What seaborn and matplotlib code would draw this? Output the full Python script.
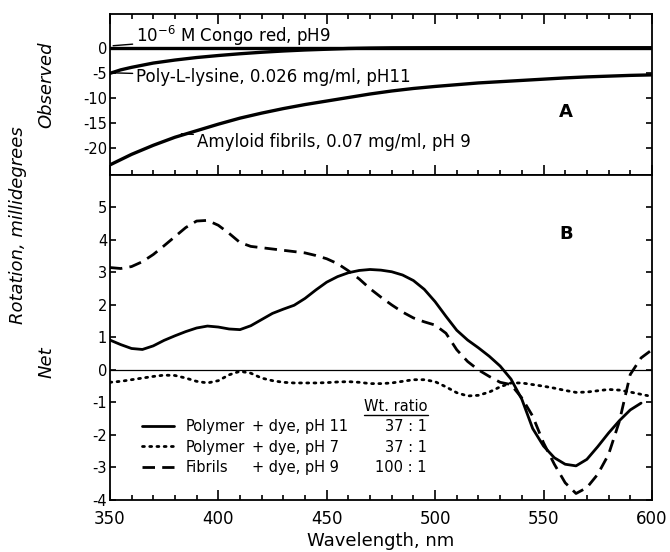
import numpy as np
import pandas as pd
import matplotlib
matplotlib.use("Agg")
import matplotlib.pyplot as plt
import seaborn as sns
from matplotlib.ticker import MultipleLocator
from matplotlib.lines import Line2D

# ---------------- data ----------------
# Panel A: observed rotation (millidegrees)
wl_congo = [350, 600]
congo = [0.0, 0.0]

wl_lysine = [350, 355, 360, 370, 380, 390, 400, 410, 420, 430, 440, 450,
             460, 470, 480, 500, 550, 600]
lysine = [-5.1, -4.4, -3.9, -3.05, -2.45, -1.95, -1.55, -1.2, -0.9, -0.65,
          -0.45, -0.3, -0.15, -0.07, -0.02, 0.0, 0.0, 0.0]

wl_fibril_obs = [350, 360, 370, 380, 390, 400, 410, 420, 430, 440, 450, 460,
                 470, 480, 490, 500, 510, 520, 530, 540, 550, 560, 570, 580,
                 590, 600]
fibril_obs = [-23.3, -21.2, -19.4, -17.8, -16.5, -15.2, -14.0, -13.0, -12.1,
              -11.3, -10.6, -9.9, -9.2, -8.6, -8.1, -7.7, -7.35, -7.0, -6.75,
              -6.5, -6.25, -6.0, -5.8, -5.65, -5.5, -5.4]

# Panel B: net rotation (millidegrees)
wl_ph11 = list(range(350, 600, 5))
net_ph11 = [0.92, 0.78, 0.66, 0.63, 0.74, 0.91, 1.05, 1.18, 1.29, 1.35,
            1.32, 1.26, 1.24, 1.36, 1.55, 1.74, 1.87, 1.99, 2.20, 2.46,
            2.70, 2.87, 2.99, 3.06, 3.09, 3.07, 3.02, 2.92, 2.75, 2.48,
            2.10, 1.65, 1.22, 0.92, 0.68, 0.42, 0.12, -0.28, -0.90, -1.80,
            -2.34, -2.70, -2.90, -2.95, -2.75, -2.36, -1.94, -1.56, -1.23, -1.02]

wl_ph7 = list(range(350, 600, 5)) + [598]
net_ph7 = [-0.38, -0.35, -0.30, -0.25, -0.20, -0.16, -0.17, -0.25, -0.35, -0.40,
           -0.33, -0.15, -0.04, -0.10, -0.25, -0.33, -0.38, -0.40, -0.40, -0.40,
           -0.39, -0.37, -0.36, -0.38, -0.42, -0.42, -0.40, -0.35, -0.30, -0.30,
           -0.36, -0.52, -0.70, -0.80, -0.78, -0.68, -0.52, -0.40, -0.40, -0.45,
           -0.50, -0.56, -0.63, -0.69, -0.68, -0.64, -0.60, -0.62, -0.68, -0.75,
           -0.79]

wl_fib = list(range(350, 605, 5))
net_fib = [3.15, 3.12, 3.18, 3.33, 3.55, 3.82, 4.10, 4.38, 4.58, 4.60,
           4.45, 4.20, 3.92, 3.80, 3.76, 3.72, 3.68, 3.64, 3.60, 3.52,
           3.42, 3.27, 3.05, 2.80, 2.50, 2.24, 2.00, 1.78, 1.60, 1.48,
           1.38, 1.13, 0.62, 0.26, 0.00, -0.20, -0.38, -0.45, -0.86, -1.42,
           -2.24, -2.90, -3.47, -3.80, -3.62, -3.21, -2.60, -1.58, -0.14, 0.37,
           0.62]

legend_names = ["Polymer", "Polymer", "Fibrils"]
legend_cond = ["+ dye, pH 11", "+ dye, pH 7", "+ dye, pH 9"]
legend_ratio = ["37 : 1", "37 : 1", "100 : 1"]

# ---------------- figure ----------------
sns.set_style("ticks")
plt.rcParams["font.family"] = ["DejaVu Sans"]
plt.rcParams["axes.linewidth"] = 1.3
for key in ("text.color", "axes.labelcolor", "xtick.color", "ytick.color",
            "axes.edgecolor"):
    plt.rcParams[key] = "black"

fig = plt.figure(figsize=(6.7, 5.52), dpi=100)
axA = fig.add_axes([0.164, 0.683, 0.809, 0.2916])
axB = fig.add_axes([0.164, 0.0942, 0.809, 0.589], sharex=axA)

def frame(d):
    return pd.DataFrame({"wl": d[0], "val": d[1]})

DOT = (0, (0.7, 1.9))
DASH = (0, (4.5, 2.6))

# Panel A
sns.lineplot(data=frame((wl_congo, congo)), x="wl", y="val", ax=axA,
             color="k", lw=2.4)
sns.lineplot(data=frame((wl_lysine, lysine)), x="wl", y="val", ax=axA,
             color="k", lw=2.4)
sns.lineplot(data=frame((wl_fibril_obs, fibril_obs)), x="wl", y="val", ax=axA,
             color="k", lw=2.4)

# Panel B
axB.axhline(0, color="k", lw=0.9)
sns.lineplot(data=frame((wl_ph11, net_ph11)), x="wl", y="val", ax=axB,
             color="k", lw=2.0)
sns.lineplot(data=frame((wl_ph7, net_ph7)), x="wl", y="val", ax=axB,
             color="k", lw=2.0, linestyle=DOT, dash_capstyle="round")
sns.lineplot(data=frame((wl_fib, net_fib)), x="wl", y="val", ax=axB,
             color="k", lw=2.0, linestyle=DASH)

# axes limits / ticks
axA.set_xlim(350, 600)
axA.set_ylim(-25.3, 6.7)
axB.set_ylim(-4, 6)
axA.set_yticks([0, -5, -10, -15, -20])
axA.set_yticklabels(["0", "-5", "-10", "-15", "-20"])
axB.set_yticks([-4, -3, -2, -1, 0, 1, 2, 3, 4, 5])
axB.set_yticklabels(["-4", "-3", "-2", "-1", "0", "1", "2", "3", "4", "5"])
for ax in (axA, axB):
    ax.xaxis.set_major_locator(MultipleLocator(50))
    ax.xaxis.set_minor_locator(MultipleLocator(10))
    ax.set_xlabel("")
    ax.set_ylabel("")
    ax.tick_params(axis="x", which="major", direction="in", length=7, width=1.2)
    ax.tick_params(axis="x", which="minor", direction="in", length=3.8, width=1.2)
    ax.tick_params(axis="y", which="major", direction="in", length=4, width=1.2,
                   right=True, labelsize=10.5, pad=2)
    for s in ax.spines.values():
        s.set_visible(True)
        s.set_color("k")
axA.tick_params(axis="x", which="both", top=True, bottom=True, labelbottom=False)
axB.tick_params(axis="x", which="both", top=False, bottom=True, labelsize=12, pad=7)
axB.set_xticks([350, 400, 450, 500, 550, 600])
axB.set_xlabel("Wavelength, nm", fontsize=13, labelpad=3)

# Panel A annotations
arrow = dict(arrowstyle="-", color="k", lw=1.0, shrinkA=0, shrinkB=0)
axA.annotate(r"10$^{-6}$ M Congo red, pH9", xy=(351.5, 0.4), xytext=(362, 2.3),
             fontsize=12, va="center", ha="left", arrowprops=arrow)
axA.annotate("Poly-L-lysine, 0.026 mg/ml, pH11", xy=(352, -5.0), xytext=(362, -5.9),
             fontsize=12, va="center", ha="left", arrowprops=arrow)
axA.annotate("Amyloid fibrils, 0.07 mg/ml, pH 9", xy=(383, -17.1), xytext=(390, -18.7),
             fontsize=12, va="center", ha="left", arrowprops=arrow)
axA.text(0.842, 0.39, "A", transform=axA.transAxes, fontsize=13, fontweight="bold",
         ha="center", va="center")
axB.text(0.842, 0.818, "B", transform=axB.transAxes, fontsize=13, fontweight="bold",
         ha="center", va="center")

# y labels
fig.text(0.027, 0.592, "Rotation, millidegrees", rotation=90, style="italic",
         fontsize=13, ha="center", va="center")
fig.text(0.069, 0.846, "Observed", rotation=90, style="italic",
         fontsize=13, ha="center", va="center")
fig.text(0.069, 0.344, "Net", rotation=90, style="italic",
         fontsize=13, ha="center", va="center")

# legend
handles = [Line2D([], [], color="k", lw=2.0),
           Line2D([], [], color="k", lw=2.0, linestyle=DOT, dash_capstyle="round"),
           Line2D([], [], color="k", lw=2.0, linestyle=DASH)]
leg = axB.legend(handles, legend_names, loc="center left",
                 bbox_to_anchor=(0.059, 0.163), frameon=False, fontsize=10.5,
                 handlelength=2.2, handletextpad=0.8, labelspacing=0.38,
                 borderpad=0, borderaxespad=0)
fig.canvas.draw()
renderer = fig.canvas.get_renderer()
inv = axB.transAxes.inverted()
for txt, cond, ratio in zip(leg.get_texts(), legend_cond, legend_ratio):
    bb = txt.get_window_extent(renderer)
    (x0, y0), (x1, y1) = inv.transform([[bb.x0, bb.y0], [bb.x1, bb.y1]])
    yc = (y0 + y1) / 2
    axB.text(0.262, yc, cond, transform=axB.transAxes, fontsize=10.5,
             ha="left", va="center")
    axB.text(0.585, yc, ratio, transform=axB.transAxes, fontsize=10.5,
             ha="right", va="center")
hdr = axB.text(0.528, 0.287, "Wt. ratio", transform=axB.transAxes, fontsize=10.5,
               ha="center", va="center")
fig.canvas.draw()
hb = hdr.get_window_extent(renderer)
(hx0, hy0), (hx1, hy1) = inv.transform([[hb.x0, hb.y0], [hb.x1, hb.y1]])
axB.add_line(Line2D([hx0, hx1], [hy0 - 0.004, hy0 - 0.004], transform=axB.transAxes,
                    color="k", lw=1.0))

fig.savefig("out.png", dpi=100)
